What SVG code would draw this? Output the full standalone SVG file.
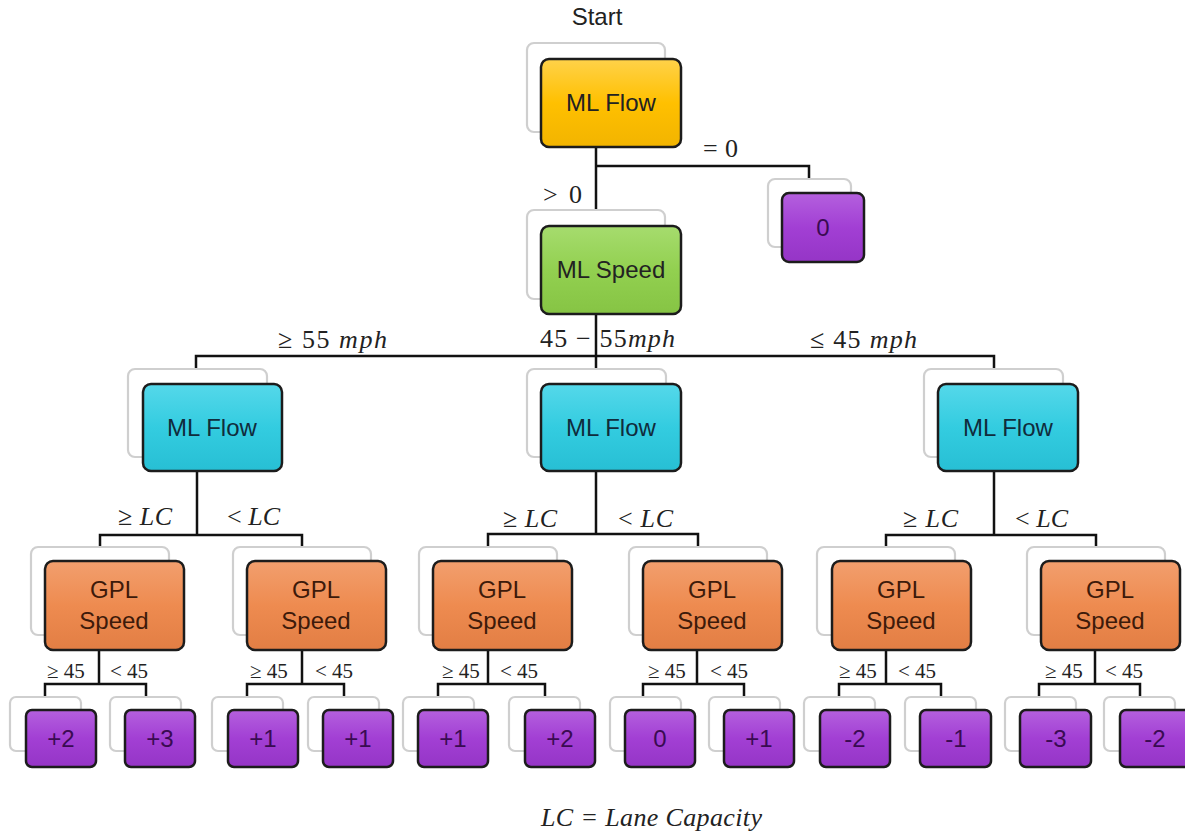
<svg xmlns="http://www.w3.org/2000/svg" width="1185" height="835" viewBox="0 0 1185 835">
<defs>
<linearGradient id="gY" x1="0" y1="0" x2="0" y2="1"><stop offset="0" stop-color="#FFD24A"/><stop offset="0.5" stop-color="#FFC000"/><stop offset="1" stop-color="#F2B400"/></linearGradient>
<linearGradient id="gG" x1="0" y1="0" x2="0" y2="1"><stop offset="0" stop-color="#A6DC6E"/><stop offset="0.5" stop-color="#92D050"/><stop offset="1" stop-color="#86C444"/></linearGradient>
<linearGradient id="gC" x1="0" y1="0" x2="0" y2="1"><stop offset="0" stop-color="#55D8EA"/><stop offset="0.5" stop-color="#33CCE0"/><stop offset="1" stop-color="#27BFD4"/></linearGradient>
<linearGradient id="gO" x1="0" y1="0" x2="0" y2="1"><stop offset="0" stop-color="#F29F6E"/><stop offset="0.5" stop-color="#EE8B50"/><stop offset="1" stop-color="#E27E44"/></linearGradient>
<linearGradient id="gP" x1="0" y1="0" x2="0" y2="1"><stop offset="0" stop-color="#B460DE"/><stop offset="0.5" stop-color="#A23FD4"/><stop offset="1" stop-color="#9535C6"/></linearGradient>
<style>
.sh{fill:#fff;stroke:#cfcfcf;stroke-width:2.2}
.bx{stroke:#1c1c1c;stroke-width:2.5}
.y{fill:url(#gY)}.g{fill:url(#gG)}.c{fill:url(#gC)}.o{fill:url(#gO)}.p{fill:url(#gP)}
.t{font-family:"Liberation Sans",Arial,sans-serif;font-size:24px;fill:#222;text-anchor:middle}
.tp{fill:#3a0b52}
.tc{fill:#102c3c}
.tr{fill:#3d1a0a}
.m{font-family:"Liberation Serif","DejaVu Serif",serif;font-size:26px;fill:#222}
.s{font-family:"Liberation Serif","DejaVu Serif",serif;font-size:21px;fill:#222}
.i{font-style:italic}
.ln{fill:none;stroke:#111;stroke-width:2.5}
</style>
</defs>
<rect width="1185" height="835" fill="#fff"/>

<text x="597" y="25" class="t">Start</text>

<g id="connectors" class="ln">
<path d="M596 147V210M596 166H809V179"/>
<path d="M596 313V369M196 369V356H994V369"/>
<path d="M197 471V535M100 547V535H302V547"/>
<path d="M596 471V534M488 547V534H698V547"/>
<path d="M994 471V535M886 547V535H1096V547"/>
<path d="M99 650V684M45 697V684H146V697"/>
<path d="M302 650V684M247 697V684H344V697"/>
<path d="M488 650V684M438 697V684H545V697"/>
<path d="M697 650V684M643 697V684H744V697"/>
<path d="M886 650V684M839 697V684H941V697"/>
<path d="M1095 650V684M1039 697V684H1140V697"/>
</g>

<g id="labels">
<text x="703" y="157" class="m" textLength="35" lengthAdjust="spacing">= 0</text>
<text x="543" y="203" class="m" textLength="39" lengthAdjust="spacing">&gt; 0</text>
<text x="278" y="348" class="m" textLength="109" lengthAdjust="spacing">≥ 55 <tspan class="i">mph</tspan></text>
<text x="540" y="347" class="m" textLength="135" lengthAdjust="spacing">45 − 55<tspan class="i">mph</tspan></text>
<text x="810" y="348" class="m" textLength="107" lengthAdjust="spacing">≤ 45 <tspan class="i">mph</tspan></text>
<text x="118" y="525" class="m" textLength="54" lengthAdjust="spacing">≥ <tspan class="i">LC</tspan></text>
<text x="227" y="525" class="m" textLength="53" lengthAdjust="spacing">&lt; <tspan class="i">LC</tspan></text>
<text x="503" y="527" class="m" textLength="54" lengthAdjust="spacing">≥ <tspan class="i">LC</tspan></text>
<text x="618" y="527" class="m" textLength="55" lengthAdjust="spacing">&lt; <tspan class="i">LC</tspan></text>
<text x="903" y="527" class="m" textLength="55" lengthAdjust="spacing">≥ <tspan class="i">LC</tspan></text>
<text x="1015" y="527" class="m" textLength="53" lengthAdjust="spacing">&lt; <tspan class="i">LC</tspan></text>
<text x="47" y="678" class="s">≥ 45</text><text x="110" y="678" class="s">&lt; 45</text>
<text x="250" y="678" class="s">≥ 45</text><text x="315" y="678" class="s">&lt; 45</text>
<text x="442" y="678" class="s">≥ 45</text><text x="500" y="678" class="s">&lt; 45</text>
<text x="648" y="678" class="s">≥ 45</text><text x="710" y="678" class="s">&lt; 45</text>
<text x="839" y="678" class="s">≥ 45</text><text x="898" y="678" class="s">&lt; 45</text>
<text x="1045" y="678" class="s">≥ 45</text><text x="1105" y="678" class="s">&lt; 45</text>
<text x="541" y="826" class="m i" font-size="28" textLength="221" lengthAdjust="spacing">LC = Lane Capacity</text>
</g>

<g id="n-root"><rect class="sh" x="527" y="43" width="138" height="89" rx="7"/><rect class="bx y" x="541" y="59" width="140" height="88" rx="8"/><text x="611" y="111" class="t">ML Flow</text></g>
<g id="n-zero"><rect class="sh" x="768" y="179" width="83" height="68" rx="7"/><rect class="bx p" x="782" y="193" width="82" height="69" rx="7"/><text x="823" y="236" class="t tp">0</text></g>
<g id="n-speed"><rect class="sh" x="527" y="210" width="138" height="89" rx="7"/><rect class="bx g" x="541" y="226" width="140" height="88" rx="8"/><text x="611" y="278" class="t">ML Speed</text></g>

<g id="n-flow-l"><rect class="sh" x="128" y="369" width="139" height="88" rx="7"/><rect class="bx c" x="143" y="384" width="139" height="87" rx="8"/><text x="212" y="436" class="t tc">ML Flow</text></g>
<g id="n-flow-c"><rect class="sh" x="527" y="369" width="139" height="88" rx="7"/><rect class="bx c" x="541" y="384" width="140" height="87" rx="8"/><text x="611" y="436" class="t tc">ML Flow</text></g>
<g id="n-flow-r"><rect class="sh" x="924" y="369" width="139" height="88" rx="7"/><rect class="bx c" x="938" y="384" width="140" height="87" rx="8"/><text x="1008" y="436" class="t tc">ML Flow</text></g>

<g id="n-gpl1"><rect class="sh" x="31" y="547" width="138" height="88" rx="7"/><rect class="bx o" x="45" y="561" width="139" height="89" rx="8"/><text x="114" y="598" class="t tr">GPL</text><text x="114" y="629" class="t tr">Speed</text></g>
<g id="n-gpl2"><rect class="sh" x="233" y="547" width="138" height="88" rx="7"/><rect class="bx o" x="247" y="561" width="139" height="89" rx="8"/><text x="316" y="598" class="t tr">GPL</text><text x="316" y="629" class="t tr">Speed</text></g>
<g id="n-gpl3"><rect class="sh" x="419" y="547" width="138" height="88" rx="7"/><rect class="bx o" x="433" y="561" width="139" height="89" rx="8"/><text x="502" y="598" class="t tr">GPL</text><text x="502" y="629" class="t tr">Speed</text></g>
<g id="n-gpl4"><rect class="sh" x="629" y="547" width="138" height="88" rx="7"/><rect class="bx o" x="643" y="561" width="139" height="89" rx="8"/><text x="712" y="598" class="t tr">GPL</text><text x="712" y="629" class="t tr">Speed</text></g>
<g id="n-gpl5"><rect class="sh" x="817" y="547" width="138" height="88" rx="7"/><rect class="bx o" x="832" y="561" width="139" height="89" rx="8"/><text x="901" y="598" class="t tr">GPL</text><text x="901" y="629" class="t tr">Speed</text></g>
<g id="n-gpl6"><rect class="sh" x="1027" y="547" width="138" height="88" rx="7"/><rect class="bx o" x="1041" y="561" width="139" height="89" rx="8"/><text x="1110" y="598" class="t tr">GPL</text><text x="1110" y="629" class="t tr">Speed</text></g>

<g id="leaf1"><rect class="sh" x="10" y="697" width="71" height="54" rx="6"/><rect class="bx p" x="26" y="710" width="70" height="57" rx="6"/><text x="61" y="747" class="t tp">+2</text></g>
<g id="leaf2"><rect class="sh" x="110" y="697" width="71" height="54" rx="6"/><rect class="bx p" x="125" y="710" width="70" height="57" rx="6"/><text x="160" y="747" class="t tp">+3</text></g>
<g id="leaf3"><rect class="sh" x="212" y="697" width="71" height="54" rx="6"/><rect class="bx p" x="228" y="710" width="70" height="57" rx="6"/><text x="263" y="747" class="t tp">+1</text></g>
<g id="leaf4"><rect class="sh" x="308" y="697" width="71" height="54" rx="6"/><rect class="bx p" x="323" y="710" width="70" height="57" rx="6"/><text x="358" y="747" class="t tp">+1</text></g>
<g id="leaf5"><rect class="sh" x="403" y="697" width="71" height="54" rx="6"/><rect class="bx p" x="418" y="710" width="70" height="57" rx="6"/><text x="453" y="747" class="t tp">+1</text></g>
<g id="leaf6"><rect class="sh" x="509" y="697" width="71" height="54" rx="6"/><rect class="bx p" x="525" y="710" width="70" height="57" rx="6"/><text x="560" y="747" class="t tp">+2</text></g>
<g id="leaf7"><rect class="sh" x="610" y="697" width="71" height="54" rx="6"/><rect class="bx p" x="625" y="710" width="70" height="57" rx="6"/><text x="660" y="747" class="t tp">0</text></g>
<g id="leaf8"><rect class="sh" x="709" y="697" width="71" height="54" rx="6"/><rect class="bx p" x="724" y="710" width="70" height="57" rx="6"/><text x="759" y="747" class="t tp">+1</text></g>
<g id="leaf9"><rect class="sh" x="804" y="697" width="71" height="54" rx="6"/><rect class="bx p" x="820" y="710" width="70" height="57" rx="6"/><text x="855" y="747" class="t tp">-2</text></g>
<g id="leaf10"><rect class="sh" x="905" y="697" width="71" height="54" rx="6"/><rect class="bx p" x="920" y="710" width="71" height="57" rx="6"/><text x="956" y="747" class="t tp">-1</text></g>
<g id="leaf11"><rect class="sh" x="1005" y="697" width="71" height="54" rx="6"/><rect class="bx p" x="1020" y="710" width="71" height="57" rx="6"/><text x="1056" y="747" class="t tp">-3</text></g>
<g id="leaf12"><rect class="sh" x="1104" y="697" width="71" height="54" rx="6"/><rect class="bx p" x="1120" y="710" width="70" height="57" rx="6"/><text x="1155" y="747" class="t tp">-2</text></g>
</svg>
